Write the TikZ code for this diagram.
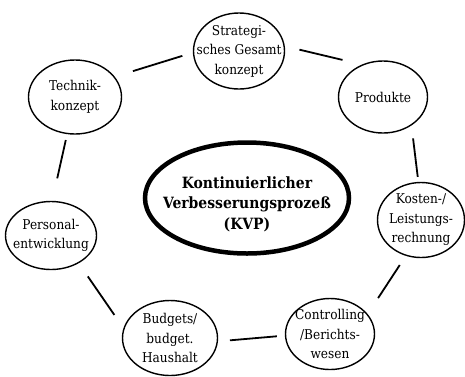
\documentclass[tikz,border=0pt]{standalone}
\usepackage{fontspec}
\setmainfont{DejaVu Serif Condensed}
\usetikzlibrary{shapes.geometric,positioning}

\begin{document}
\begin{tikzpicture}[
	thick, % line style
	on grid, % distances between node centres
	E/.style={ellipse, draw=black, line width=1.4pt, inner sep=-25pt, align=center, font=\fontsize{13.5}{19.5}\selectfont},
	C/.style={ellipse, draw=black, line width=4.5pt, inner sep=-25pt, align=center, font=\bfseries\fontsize{15.5}{20.5}\selectfont},
	L/.style={line width=1.8pt},
	]
	\useasboundingbox (0,0) rectangle (465pt,-376pt);

	% Centre item
	\node[C, minimum width=204pt, minimum height=111pt] (KVP) at (247pt,-198pt) {\rule{0pt}{24pt}Kontinuierlicher\\Verbesserungsprozeß\\(KVP)};

	% Ring items
	% Nodes and their relative positions
	\node[E, minimum width=91pt, minimum height=76pt] (SG) [above left = 147pt and 8pt of KVP] {Strategi-\\sches Gesamt\\konzept};
	\node[E, minimum width=93pt, minimum height=74pt] (TK) [above left = 101pt and 172pt of KVP] {Technik-\\konzept};
	\node[E, minimum width=89pt, minimum height=72pt] (PR) [above right = 101pt and 136pt of KVP] {Produkte};
	\node[E, minimum width=87pt, minimum height=75pt] (KL) [below right = 22pt and 174pt of KVP] {Kosten-/\\Leistungs-\\rechnung};
	\node[E, minimum width=91pt, minimum height=68pt] (PE) [below left = 37.5pt and 196pt of KVP] {Personal-\\entwicklung};
	\node[E, minimum width=95pt, minimum height=75pt] (BH) [below left = 140pt and 77pt of KVP] {Budgets/\\budget.\\Haushalt};
	\node[E, minimum width=89pt, minimum height=71pt] (CB) [below right = 136pt and 83pt of KVP] {Controlling\\/Berichts-\\wesen};

	% Paths connecting nodes
	\draw[L, shorten <=19pt, shorten >=11pt] (TK.27) -- (SG.182);
	\draw[L, shorten <=15pt, shorten >=20pt] (SG.6) -- (PR.123);
	\draw[L, shorten <=13pt, shorten >=5pt] (PR.315) -- (KL.94);
	\draw[L, shorten <=11pt, shorten >=19pt] (KL.247) -- (CB.28);
	\draw[L, shorten <=8pt, shorten >=12pt] (CB.182) -- (BH.356);
	\draw[L, shorten <=16pt, shorten >=16pt] (BH.168) -- (PE.315);
	\draw[L, shorten <=23pt, shorten >=6pt] (PE.88) -- (TK.258);

\end{tikzpicture}
\end{document}
